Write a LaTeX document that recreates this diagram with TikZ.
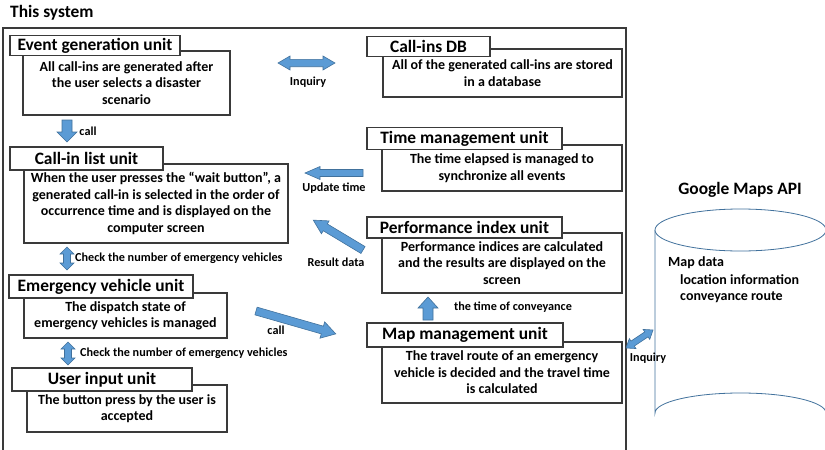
\documentclass[tikz,border=0pt]{standalone}
\usepackage{fontspec}
\setmainfont{Carlito}
\definecolor{arrowblue}{HTML}{5B9BD5}
\definecolor{arrowedge}{HTML}{41719C}
\definecolor{lineink}{HTML}{3A3A3A}
\newcommand\ttlfont{\bfseries\fontsize{17.4}{20}\selectfont}
\newcommand\bdyfont{\bfseries\fontsize{14}{16.4}\selectfont}
\newcommand\lblfont{\bfseries\fontsize{12.2}{14}\selectfont}
\tikzset{
  boxline/.style={draw=lineink, line width=1.1pt},
  bodybox/.style={boxline, fill=white, inner sep=0pt, align=center, font=\bdyfont},
  titlebox/.style={boxline, fill=white, inner sep=0pt, font=\ttlfont},
  lbl/.style={inner sep=0pt, font=\lblfont},
  blockarrow/.style={fill=arrowblue, draw=arrowedge, line width=0.6pt},
  % one-headed block arrow: length, shaft half width, head half width, head length
  pics/onearrow/.style n args={4}{code={
    \path[blockarrow] (0,-#2) -- ({#1-#4},-#2) -- ({#1-#4},-#3) -- (#1,0)
      -- ({#1-#4},#3) -- ({#1-#4},#2) -- (0,#2) -- cycle;
  }},
  % two-headed block arrow: same parameters
  pics/twoarrow/.style n args={4}{code={
    \path[blockarrow] (0,0) -- (#4,-#3) -- (#4,-#2) -- ({#1-#4},-#2) -- ({#1-#4},-#3)
      -- (#1,0) -- ({#1-#4},#3) -- ({#1-#4},#2) -- (#4,#2) -- (#4,#3) -- cycle;
  }},
}
\begin{document}
\begin{tikzpicture}[x=1pt, y=-1pt]
\useasboundingbox (0,0) rectangle (825,450);

% system frame and its caption
\draw[boxline] (3,460) -- (3,28) -- (626,28) -- (626,460);
\node[inner sep=0pt, font=\ttlfont, anchor=base west] (sys) at (10,17.5) {This system};

% Event generation unit
\node[bodybox, minimum width=207, minimum height=64] (evB) at (126.5,83)
  {All call-ins are generated after\\the user selects a disaster\\scenario};
\node[titlebox, minimum width=170, minimum height=20] (evT) at (95,45.5) {Event generation unit};

% Call-ins DB
\node[bodybox, minimum width=239, minimum height=48] (dbB) at (502.5,73)
  {All of the generated call-ins are stored\\in a database};
\node[titlebox, minimum width=123, minimum height=20] (dbT) at (428.5,46.5) {Call-ins DB};

% Time management unit
\node[bodybox, minimum width=240, minimum height=46] (tmB) at (502,168)
  {The time elapsed is managed to\\synchronize all events};
\node[titlebox, minimum width=195, minimum height=22] (tmT) at (464.5,138.5) {Time management unit};

% Call-in list unit
\node[bodybox, minimum width=264, minimum height=79] (clB) at (156,203.5)
  {When the user presses the “wait button”, a\\generated call-in is selected in the order of\\occurrence time and is displayed on the\\computer screen};
\node[titlebox, minimum width=153, minimum height=23] (clT) at (86.5,158.5) {Call-in list unit};

% Performance index unit
\node[bodybox, minimum width=240, minimum height=60] (piB) at (502,263)
  {Performance indices are calculated\\and the results are displayed on the\\screen};
\node[titlebox, minimum width=195, minimum height=21] (piT) at (464.5,227.5) {Performance index unit};

% Emergency vehicle unit
\node[bodybox, minimum width=203, minimum height=45] (evuB) at (125.5,315.5)
  {The dispatch state of\\emergency vehicles is managed};
\node[titlebox, minimum width=184, minimum height=23] (evuT) at (101,286.5) {Emergency vehicle unit};

% Map management unit
\node[bodybox, minimum width=240, minimum height=61] (mmB) at (502,372.5)
  {The travel route of an emergency\\vehicle is decided and the travel time\\is calculated};
\node[titlebox, minimum width=196, minimum height=24] (mmT) at (465,335) {Map management unit};

% User input unit
\node[bodybox, minimum width=200, minimum height=47] (uiB) at (127,408.5)
  {The button press by the user is\\accepted};
\node[titlebox, minimum width=180, minimum height=23] (uiT) at (102,379.5) {User input unit};

% Google Maps API store
\node[inner sep=0pt, font=\bfseries\fontsize{17.4}{20}\selectfont] (gm) at (740,190) {Google Maps API};
\draw[arrowedge, line width=0.8pt, fill=white]
  (655,230) -- (655,413) arc[start angle=180, end angle=360, x radius=85.5, y radius=20]
  -- (826,230);
\draw[arrowedge, line width=0.8pt, fill=white] (740.5,230) ellipse[x radius=85.5, y radius=21];
\node[lbl, font=\bdyfont, anchor=west] (md) at (668,263) {Map data};
\node[lbl, font=\bdyfont, anchor=west] (li) at (680,280) {location information};
\node[lbl, font=\bdyfont, anchor=west] (cr) at (680,297) {conveyance route};

% block arrows and their labels
\pic at (278,63) {twoarrow={57}{3.7}{7}{12}};
\node[lbl] (inq1) at (308,82) {Inquiry};

\pic[rotate=-90] at (67,120) {onearrow={22}{5}{10}{10}};
\node[lbl] (call1) at (88,131) {call};

\pic[rotate=180] at (363,173) {onearrow={58}{3.5}{6.5}{15}};
\node[lbl] (upd) at (334,188) {Update time};

\pic[rotate=149] at (363,250) {onearrow={58}{4}{7.5}{14}};
\node[lbl] (res) at (336,262) {Result data};

\pic[rotate=-90] at (67,247) {twoarrow={23}{3.5}{7}{7}};
\node[lbl, anchor=west] (chk1) at (75,258) {Check the number of emergency vehicles};

\pic[rotate=-90] at (68,342) {twoarrow={23}{3.5}{7}{7}};
\node[lbl, anchor=west] (chk2) at (80,353) {Check the number of emergency vehicles};

\pic[rotate=-16] at (256,311) {onearrow={83}{4}{8.5}{14}};
\node[lbl] (call2) at (276,330) {call};

\pic[rotate=90] at (428,320) {onearrow={23}{5}{10}{11}};
\node[lbl] (conv) at (513,307) {the time of conveyance};

\pic[rotate=33.7] at (626,348) {twoarrow={32.5}{3}{6}{8}};
\node[lbl] (inq2) at (648,358) {Inquiry};
\end{tikzpicture}
\end{document}
